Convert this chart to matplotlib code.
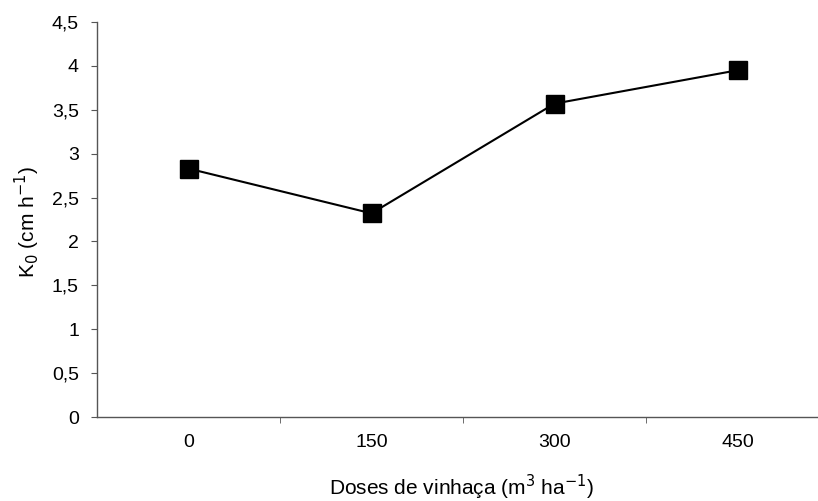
import matplotlib.pyplot as plt
from matplotlib.ticker import FixedLocator, FuncFormatter

plt.rcParams['font.family'] = ['Liberation Sans', 'DejaVu Sans']

# Data
doses = ['0', '150', '300', '450']
k0 = [2.83, 2.32, 3.57, 3.95]

fig = plt.figure(figsize=(8.18, 5.01), dpi=100)
W, H = 818, 501
left, right, top, bottom = 97, 818, 22, 417
ax = fig.add_axes([left / W, 1 - bottom / H, (right - left) / W, (bottom - top) / H])

x = list(range(len(doses)))
ax.plot(x, k0, color='black', linewidth=1.5, marker='s', markersize=13,
        markerfacecolor='black', markeredgecolor='black')

step = 183.0
ax.set_xlim(-0.5, -0.5 + (right - left) / step)
ax.set_ylim(0, 4.5)

# category labels at centers, tick marks on the boundaries
ax.set_xticks(x)
ax.set_xticklabels(doses)
ax.tick_params(axis='x', which='major', length=0, pad=12)
ax.xaxis.set_minor_locator(FixedLocator([0.5, 1.5, 2.5]))
ax.tick_params(axis='x', which='minor', length=4, direction='out', color='#555555')

yt = [i * 0.5 for i in range(10)]
ax.set_yticks(yt)
ax.yaxis.set_major_formatter(FuncFormatter(lambda v, p: ('%g' % v).replace('.', ',')))
ax.tick_params(axis='y', length=4, direction='out', color='#555555', pad=9)
ax.tick_params(labelsize=14)

for s in ['top', 'right']:
    ax.spines[s].set_visible(False)
for s in ['left', 'bottom']:
    ax.spines[s].set_color('#555555')
    ax.spines[s].set_linewidth(1.0)

fig.text(462 / W, 1 - 487 / H, 'Doses de vinhaça (m$^{3}$ ha$^{-1}$)', ha='center', va='center',
         fontsize=15)
fig.text(27 / W, 1 - 222 / H, 'K$_{0}$ (cm h$^{-1}$)', ha='center', va='center',
         rotation=90, fontsize=15)

fig.savefig('out.png', dpi=100)
